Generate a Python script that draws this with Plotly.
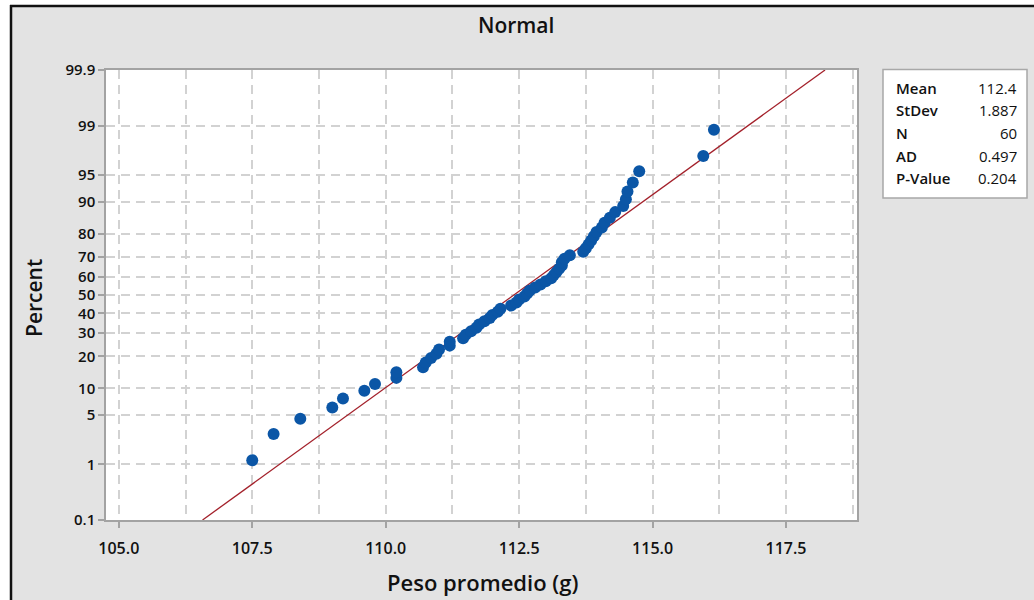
import plotly.graph_objects as go
from statistics import NormalDist

# ---- data ----
weights = [107.5, 107.9, 108.4, 109.0, 109.2, 109.6, 109.8, 110.2, 110.2,
           110.7, 110.75, 110.85, 110.95, 111.0, 111.2, 111.2,
           111.45, 111.5, 111.6, 111.7, 111.75, 111.85, 111.95, 112.0, 112.1, 112.15,
           112.35, 112.45, 112.5, 112.6, 112.65, 112.7, 112.8, 112.9, 113.0, 113.1,
           113.15, 113.2, 113.25, 113.3, 113.3, 113.35, 113.45, 113.7, 113.75, 113.8,
           113.85, 113.9, 113.95, 114.05, 114.1, 114.2, 114.3, 114.45, 114.5, 114.53,
           114.63, 114.75, 115.95, 116.15]
percent = [1.16, 2.81, 4.47, 6.13, 7.78, 9.44, 11.09, 12.75, 14.40, 16.06,
           17.72, 19.37, 21.03, 22.68, 24.34, 25.99, 27.65, 29.30, 30.96, 32.62,
           34.27, 35.93, 37.58, 39.24, 40.89, 42.55, 44.21, 45.86, 47.52, 49.17,
           50.83, 52.48, 54.14, 55.79, 57.45, 59.11, 60.76, 62.42, 64.07, 65.73,
           67.38, 69.04, 70.70, 72.35, 74.01, 75.66, 77.32, 78.97, 80.63, 82.28,
           83.94, 85.60, 87.25, 88.91, 90.56, 92.22, 93.87, 95.53, 97.19, 98.84]
fit_percent = [0.1, 99.9]
y_ticks = [0.1, 1, 5, 10, 20, 30, 40, 50, 60, 70, 80, 90, 95, 99, 99.9]
y_tick_text = ["0.1", "1", "5", "10", "20", "30", "40", "50", "60", "70", "80", "90", "95", "99", "99.9"]
stat_labels = ["Mean", "StDev", "N", "AD", "P-Value"]
stat_values = ["112.4", "1.887", "60", "0.497", "0.204"]
mean, stdev = 112.4, 1.887

std = NormalDist()
fitted = NormalDist(mean, stdev)
z_pts = [std.inv_cdf(p / 100) for p in percent]
z_ticks = [std.inv_cdf(p / 100) for p in y_ticks]
fit_x = [fitted.inv_cdf(p / 100) for p in fit_percent]
fit_z = [std.inv_cdf(p / 100) for p in fit_percent]

# ---- layout geometry (px) ----
W, H = 1034, 600
L, R, T, B = 106, 857, 70, 520
PW, PH = R - L, B - T
def px_x(px):
    return (px - L) / PW
def px_y(py):
    return (B - py) / PH

BG = "#e3e3e3"
FONT = "Open Sans"
GRID = "#d2d2d2"
AXC = "#a3a3a3"
TXT = "#111111"

fig = go.Figure()
fig.add_trace(go.Scatter(x=fit_x, y=fit_z, mode="lines",
                         line=dict(color="#a3202a", width=1.3),
                         hoverinfo="skip", showlegend=False))
fig.add_trace(go.Scatter(x=weights, y=z_pts, mode="markers",
                         marker=dict(color="#0b56a6", size=12, line=dict(width=0)),
                         showlegend=False))

fig.update_layout(
    width=W, height=H,
    margin=dict(l=L, r=W - R, t=T, b=H - B, autoexpand=False),
    paper_bgcolor=BG, plot_bgcolor="white",
    font=dict(family=FONT, color=TXT),
    showlegend=False,
)
fig.update_xaxes(
    range=[104.76, 118.83], tick0=105, dtick=2.5, tickformat=".1f",
    showline=True, mirror=True, linecolor=AXC, linewidth=1.5,
    ticks="outside", ticklen=6, tickcolor=AXC, tickwidth=1.5,
    ticklabelstandoff=7,
    tickfont=dict(size=16, family=FONT, weight=600, color=TXT),
    showgrid=True, gridcolor=GRID, gridwidth=1.5, griddash="9px,6px",
    minor=dict(dtick=1.25, tick0=105, showgrid=True, gridcolor=GRID,
               gridwidth=1.5, griddash="9px,6px", ticks=""),
    zeroline=False,
)
fig.update_yaxes(
    range=[z_ticks[0], z_ticks[-1]], tickmode="array",
    tickvals=z_ticks, ticktext=y_tick_text,
    showline=True, mirror=True, linecolor=AXC, linewidth=1.5,
    ticks="outside", ticklen=6, tickcolor=AXC, tickwidth=1.5,
    tickfont=dict(size=15, family=FONT, weight=600, color=TXT),
    showgrid=True, gridcolor=GRID, gridwidth=1.5, griddash="9px,6px",
    zeroline=False,
)

shapes = []
# white margins outside the framed panel, and the black frame
shapes.append(dict(type="rect", xref="paper", yref="paper",
                   x0=px_x(-5), x1=px_x(10), y0=px_y(H + 5), y1=px_y(-5),
                   fillcolor="white", line=dict(width=0), layer="above"))
shapes.append(dict(type="rect", xref="paper", yref="paper",
                   x0=px_x(-5), x1=px_x(W + 5), y0=px_y(5), y1=px_y(-5),
                   fillcolor="white", line=dict(width=0), layer="above"))
shapes.append(dict(type="line", xref="paper", yref="paper",
                   x0=px_x(11), x1=px_x(11), y0=px_y(5), y1=px_y(H + 5),
                   line=dict(color=TXT, width=2.5)))
shapes.append(dict(type="line", xref="paper", yref="paper",
                   x0=px_x(10), x1=px_x(W + 5), y0=px_y(6), y1=px_y(6),
                   line=dict(color=TXT, width=2.5)))
# statistics box
shapes.append(dict(type="rect", xref="paper", yref="paper",
                   x0=px_x(883), x1=px_x(1027), y0=px_y(198), y1=px_y(69.5),
                   fillcolor="white", line=dict(color="#a8a8a8", width=1.5)))
fig.update_layout(shapes=shapes)

ann = []
ann.append(dict(text="Normal", x=px_x(516), y=px_y(25), xref="paper", yref="paper",
                showarrow=False, xanchor="center", yanchor="middle",
                font=dict(size=21, family=FONT, weight=600, color=TXT)))
ann.append(dict(text="Peso promedio (g)", x=px_x(482), y=px_y(582), xref="paper", yref="paper",
                showarrow=False, xanchor="center", yanchor="middle",
                font=dict(size=22, family=FONT, weight=600, color=TXT)))
ann.append(dict(text="Percent", x=px_x(34), y=px_y(298), xref="paper", yref="paper",
                showarrow=False, xanchor="center", yanchor="middle", textangle=-90,
                font=dict(size=21, family=FONT, weight=600, color=TXT)))
row_y = [88, 110, 133, 156, 178]
for lab, val, ry in zip(stat_labels, stat_values, row_y):
    ann.append(dict(text=lab, x=px_x(894), y=px_y(ry), xref="paper", yref="paper",
                    showarrow=False, xanchor="left", yanchor="middle",
                    font=dict(size=15, family=FONT, weight=600, color=TXT)))
    ann.append(dict(text=val, x=px_x(1019), y=px_y(ry), xref="paper", yref="paper",
                    showarrow=False, xanchor="right", yanchor="middle",
                    font=dict(size=15, family=FONT, weight=500, color=TXT)))
fig.update_layout(annotations=ann)

fig.write_html("out.html", config={"displayModeBar": False},
               post_script="document.body.style.margin='0';document.body.style.padding='0';document.body.style.overflow='hidden';")
